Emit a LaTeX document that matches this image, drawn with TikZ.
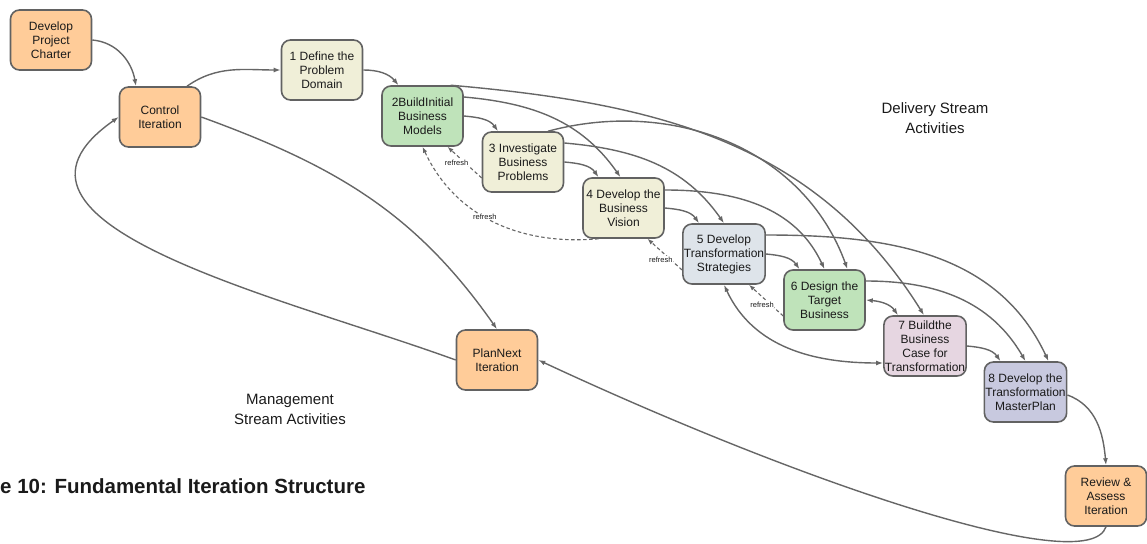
\documentclass[tikz,border=0pt]{standalone}
\usepackage{fontspec}
\setmainfont{Liberation Sans}
\usepackage{tikz}
\usetikzlibrary{arrows.meta, positioning}

\definecolor{mgmtfill}{HTML}{FFCC99}
\definecolor{paperfill}{HTML}{F0EFD8}
\definecolor{leaffill}{HTML}{BFE3BA}
\definecolor{mistfill}{HTML}{DEE4EA}
\definecolor{mauvefill}{HTML}{E6D6E1}
\definecolor{lilacfill}{HTML}{C8C9DF}
\definecolor{boxline}{HTML}{626262}
\definecolor{arrowline}{HTML}{666666}
\definecolor{textcol}{HTML}{1A1A1A}

\begin{document}
\begin{tikzpicture}[
      x=1pt, y=-1pt,
      node distance=100.5pt,
      block/.style={rectangle, rounded corners=9pt, draw=boxline, line width=1.6pt, minimum width=81pt, minimum height=60pt, inner sep=1pt, align=center, text=textcol, font=\fontsize{12}{14}\selectfont},
      arrow/.style={-{Latex[length=7pt,width=5pt]}, draw=arrowline, line width=1.4pt},
      twoway/.style={{Latex[length=7pt,width=5pt]}-{Latex[length=7pt,width=5pt]}, draw=arrowline, line width=1.4pt},
      refreshline/.style={-{Latex[length=6pt,width=4.5pt]}, draw=arrowline, line width=1.1pt, dash pattern=on 3.5pt off 2.5pt},
      refreshtext/.style={font=\fontsize{7.5}{9}\selectfont, text=textcol, fill=white, inner sep=0.5pt},
      streamtext/.style={align=center, text=textcol, font=\fontsize{15}{20}\selectfont}
  ]
      \useasboundingbox (0,0) rectangle (1147,543);

      % Management nodes
      \node[block, fill=mgmtfill] (PC) at (51,40) {Develop\\Project\\Charter};
      \node[block, fill=mgmtfill] (CI) at (160,117) {Control\\Iteration};
      \node[block, fill=mgmtfill] (PN) at (497,360) {PlanNext\\Iteration};
      \node[block, fill=mgmtfill] (RA) at (1106,496) {Review \&\\Assess\\Iteration};

      % Delivery nodes
      \node[block, fill=paperfill] (B1) at (322,70) {1 Define the\\Problem\\Domain};
      \node[block, fill=leaffill, right of=B1, yshift=-46pt] (B2) {2BuildInitial\\Business\\Models};
      \node[block, fill=paperfill, right of=B2, yshift=-46pt] (B3) {3 Investigate\\Business\\Problems};
      \node[block, fill=paperfill, right of=B3, yshift=-46pt] (B4) {4 Develop the\\Business\\Vision};
      \node[block, fill=mistfill, right of=B4, yshift=-46pt] (B5) {5 Develop\\Transformation\\Strategies};
      \node[block, fill=leaffill, right of=B5, yshift=-46pt] (B6) {6 Design the\\Target\\Business};
      \node[block, fill=mauvefill, right of=B6, yshift=-46pt] (B7) {7 Buildthe\\Business\\Case for\\Transformation};
      \node[block, fill=lilacfill, right of=B7, yshift=-46pt] (B8) {8 Develop the\\Transformation\\MasterPlan};

      % Stream labels
      \node[streamtext] (DS) at (935,118) {Delivery Stream\\Activities};
      \node[streamtext] (MS) at (290,409) {Management\\Stream Activities};
      \node[anchor=west, inner sep=0pt, text=textcol, font=\bfseries\fontsize{20.5}{24}\selectfont] (cap) at (0,486) {e 10: Fundamental Iteration Structure};

      % Main sequence
      \draw[arrow] (PC.east) to[out=-5, in=100] ([xshift=-24pt]CI.north);
      \draw[arrow] ([xshift=27pt]CI.north) to[out=35, in=180] (B1.west);
      \draw[arrow] (B1.east) to[out=0, in=130] ([xshift=-24pt]B2.north);
      \draw[arrow] (B2.east) to[out=-5, in=125] ([xshift=-25pt]B3.north);
      \draw[arrow] (B3.east) to[out=-5, in=125] ([xshift=-25pt]B4.north);
      \draw[arrow] (B4.east) to[out=-5, in=125] ([xshift=-25pt]B5.north);
      \draw[arrow] (B5.east) to[out=-5, in=125] ([xshift=-25pt]B6.north);
      \draw[twoway] (B6.east) to[out=-5, in=125] ([xshift=-27pt]B7.north);
      \draw[arrow] (B7.east) to[out=-5, in=125] ([xshift=-25pt]B8.north);

      % Skipping arcs
      \draw[arrow] ([xshift=28pt]B2.north) to[out=-5, in=122] ([xshift=-1pt]B7.north);
      \draw[arrow] ([yshift=19pt]B2.east) to[out=-5, in=125] ([xshift=-3pt]B4.north);
      \draw[arrow] ([yshift=19pt]B3.east) to[out=-5, in=125] (B5.north);
      \draw[arrow] ([xshift=25pt]B3.north) to[out=15, in=110] ([xshift=23pt]B6.north);
      \draw[arrow] ([yshift=18pt]B4.east) to[out=0, in=115] (B6.north);
      \draw[arrow] ([yshift=19pt]B5.east) to[out=0, in=115] ([xshift=23pt]B8.north);
      \draw[arrow] ([yshift=19pt]B6.east) to[out=0, in=120] (B8.north);
      \draw[twoway] (B5.south) to[out=-65, in=180] ([yshift=-17pt]B7.west);

      % Refresh loops
      \draw[refreshline] ([yshift=-16pt]B3.west) -- node[refreshtext, xshift=-8pt]{refresh} ([xshift=25pt]B2.south);
      \draw[refreshline] ([xshift=-25pt]B4.south) to[out=185, in=-65] node[refreshtext, pos=.55]{refresh} (B2.south);
      \draw[refreshline] ([yshift=-16pt]B5.west) -- node[refreshtext, xshift=-4pt, yshift=-5pt]{refresh} ([xshift=24pt]B4.south);
      \draw[refreshline] ([yshift=-16pt]B6.west) -- node[refreshtext, xshift=-4pt, yshift=-4pt]{refresh} ([xshift=25pt]B5.south);

      % Iteration cycle
      \draw[arrow] ([yshift=-3pt]B8.east) to[out=-20, in=95] (RA.north);
      \draw[arrow] (RA.south) .. controls (1088,580) and (800,482) .. (PN.east);
      \draw[arrow] (PN.west) to[out=160, in=215, looseness=1.15] (CI.west);
      \draw[arrow] (CI.east) to[out=-20, in=125] (PN.north);
  \end{tikzpicture}
\end{document}
